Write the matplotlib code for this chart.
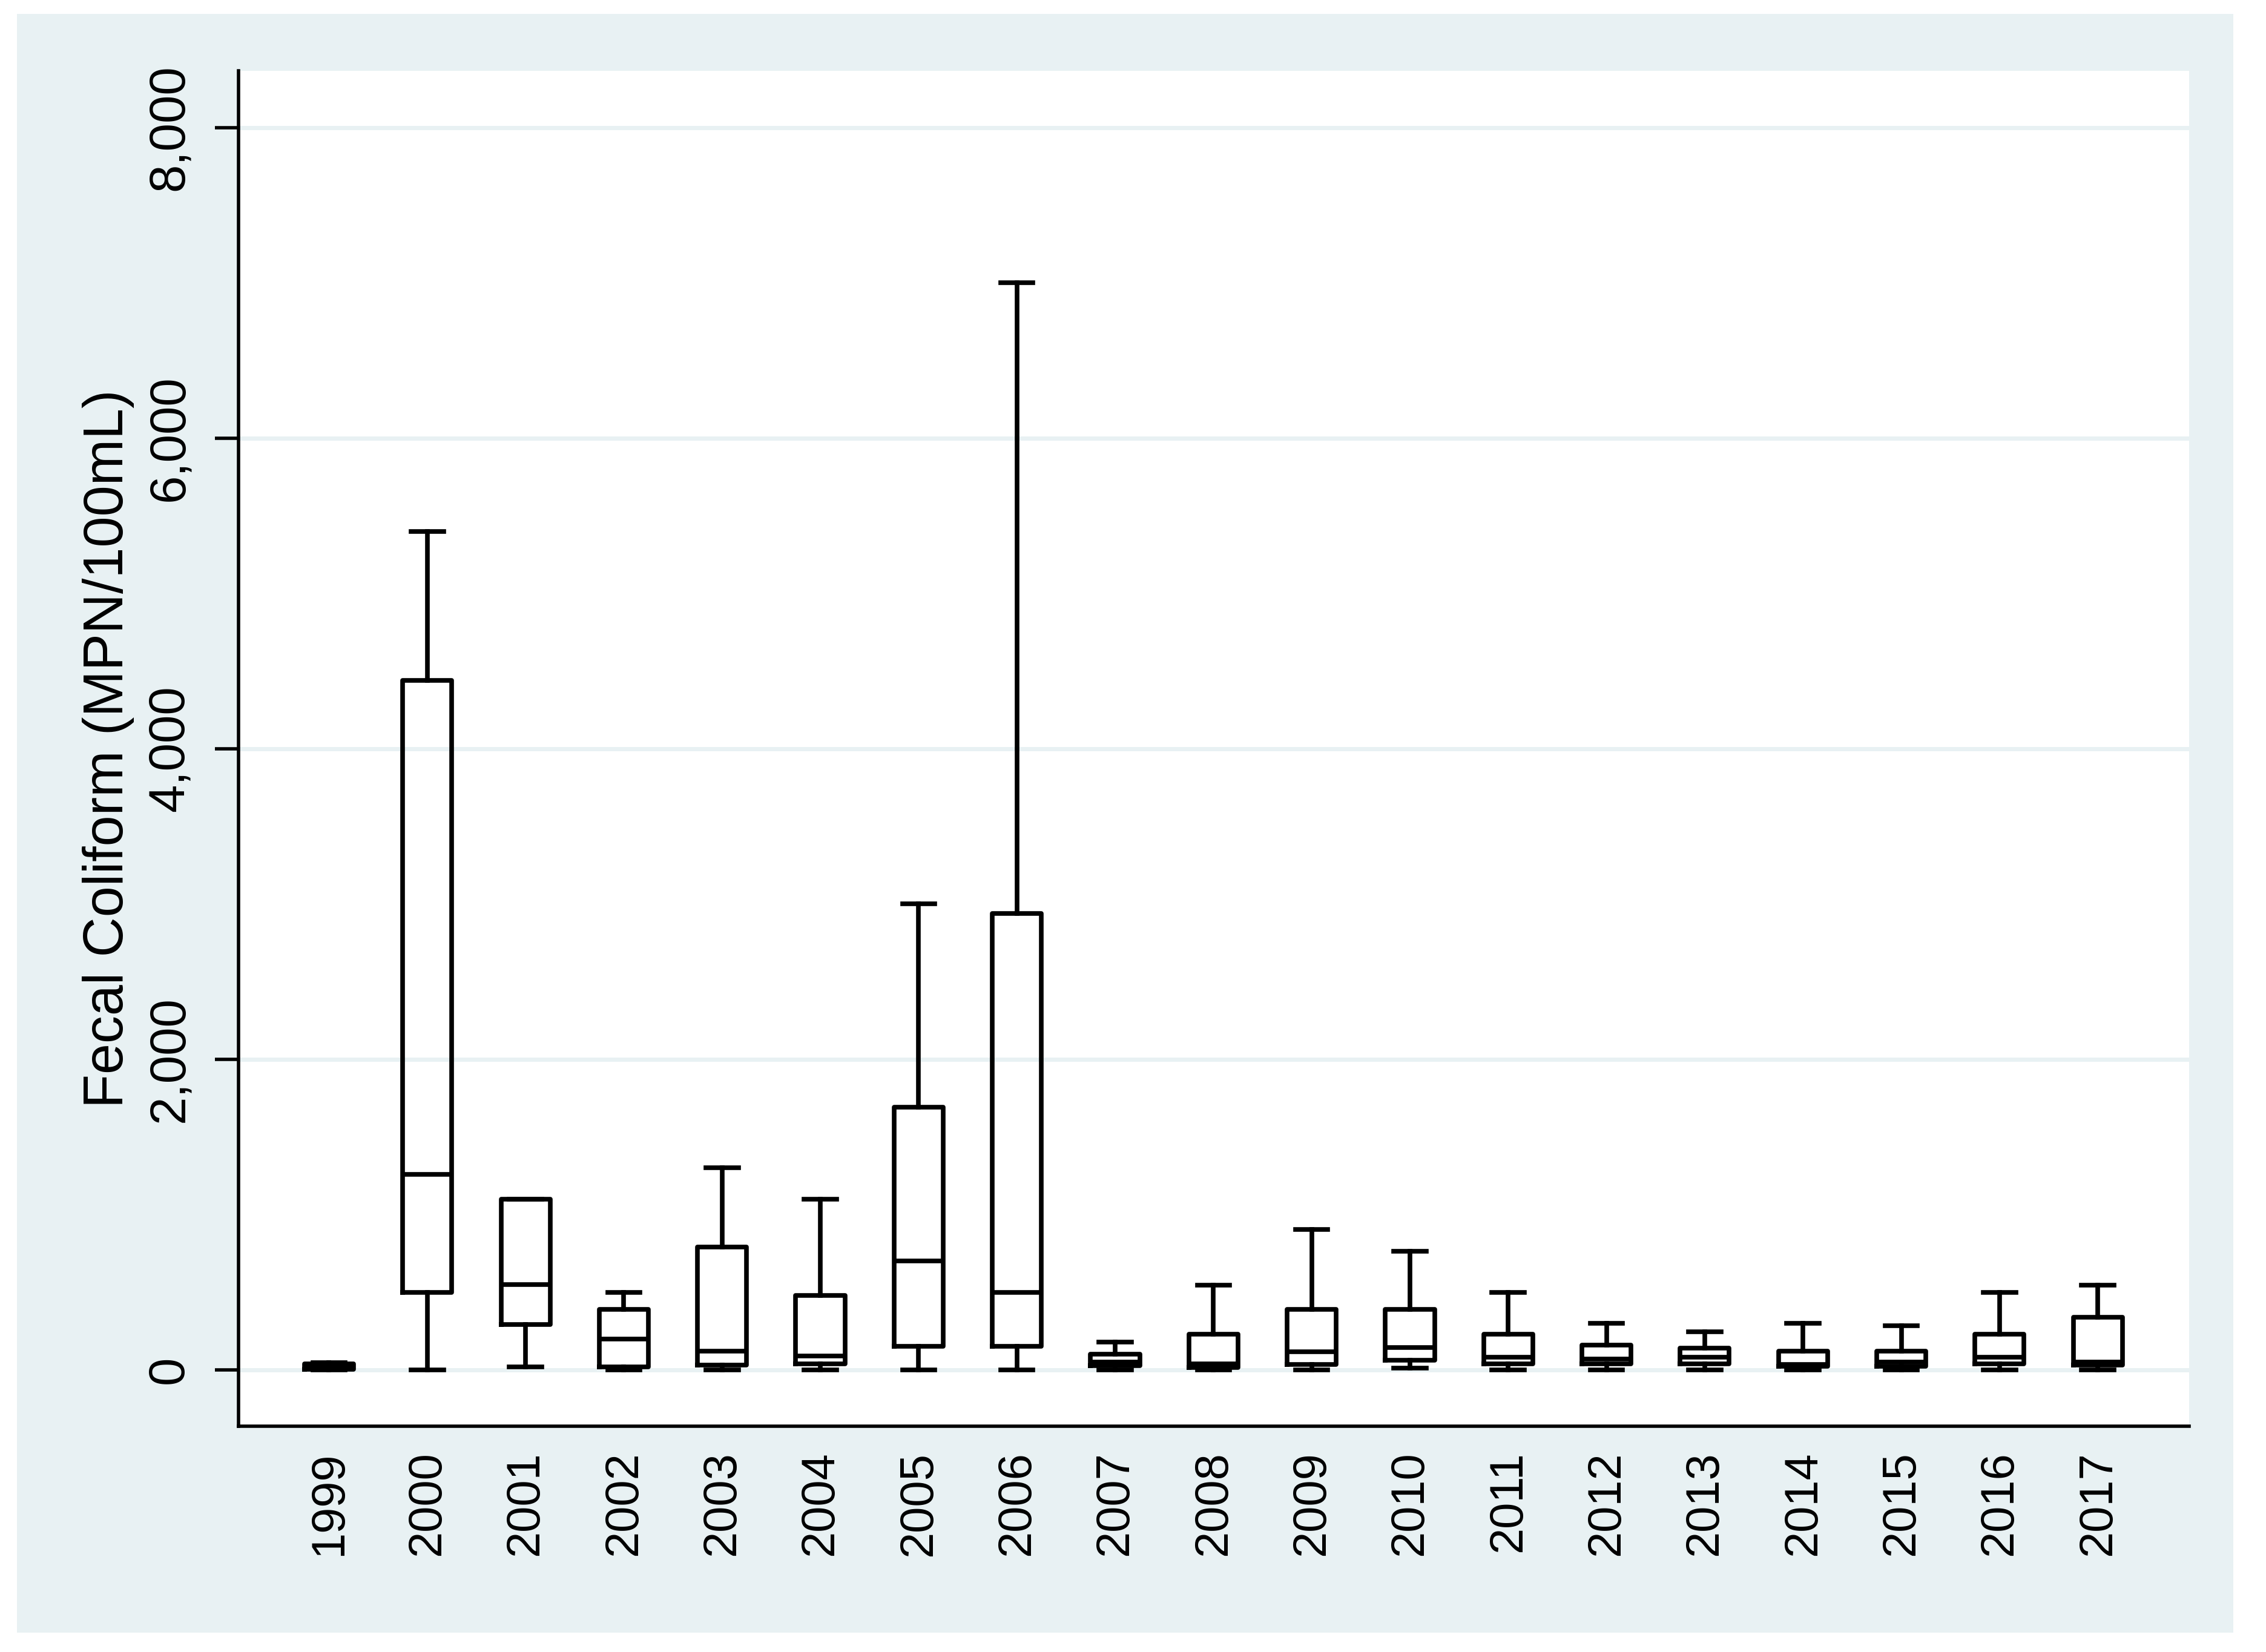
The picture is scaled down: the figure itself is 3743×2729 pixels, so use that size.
import matplotlib
matplotlib.use('Agg')
import matplotlib.pyplot as plt
from matplotlib.patches import Rectangle

plt.rcParams['font.family'] = ['Liberation Sans', 'DejaVu Sans']

# yearly fecal coliform summaries (MPN/100mL)
years = ['1999', '2000', '2001', '2002', '2003', '2004', '2005', '2006', '2007',
         '2008', '2009', '2010', '2011', '2012', '2013', '2014', '2015', '2016', '2017']
whis_lo = [0, 0, 20, 0, 0, 0, 0, 0, 0, 0, 0, 10, 0, 0, 0, 0, 0, 0, 0]
q1 = [5, 500, 290, 20, 30, 40, 150, 150, 25, 15, 35, 60, 40, 40, 40, 23, 23, 40, 30]
med = [20, 1260, 550, 200, 120, 90, 700, 500, 50, 40, 117, 145, 80, 70, 80, 36, 50, 80, 50]
q3 = [40, 4440, 1100, 390, 790, 480, 1690, 2940, 100, 230, 390, 390, 230, 160, 140, 120, 120, 230, 340]
whis_hi = [45, 5400, 1100, 500, 1300, 1100, 3000, 7000, 180, 545, 905, 765, 500, 300, 245, 300, 285, 500, 545]

stats = []
for i in range(len(years)):
    stats.append({'label': years[i], 'whislo': whis_lo[i], 'q1': q1[i], 'med': med[i],
                  'q3': q3[i], 'whishi': whis_hi[i], 'fliers': []})

bg = '#e8f1f3'
lw = 5.5

fig = plt.figure(figsize=(37.43, 27.29), dpi=100, facecolor='white')
fig.patches.append(Rectangle((0.0075, 0.0117), 0.978, 0.980, transform=fig.transFigure,
                             facecolor=bg, edgecolor='none', zorder=-10))
ax = fig.add_axes([0.1053, 0.1367, 0.8608, 0.8204])
ax.set_facecolor('white')

ax.bxp(stats, positions=range(len(years)), widths=0.5, capwidths=0.33, showfliers=False,
       boxprops=dict(color='black', linewidth=lw),
       whiskerprops=dict(color='black', linewidth=lw),
       capprops=dict(color='black', linewidth=lw),
       medianprops=dict(color='black', linewidth=lw))

ax.set_xlim(-0.92, 18.93)
ax.set_ylim(-363, 8366)
ax.set_yticks([0, 2000, 4000, 6000, 8000])
ax.set_yticklabels(['0', '2,000', '4,000', '6,000', '8,000'], rotation=90, va='center')
ax.set_xticks(range(len(years)))
ax.set_xticklabels(years, rotation=90)
ax.tick_params(axis='y', length=28, width=4, pad=26, labelsize=60)
ax.tick_params(axis='x', length=0, pad=30, labelsize=56)
ax.grid(axis='y', color=bg, linewidth=5)
ax.set_axisbelow(True)
for s in ['top', 'right']:
    ax.spines[s].set_visible(False)
for s in ['left', 'bottom']:
    ax.spines[s].set_linewidth(4)
ax.set_ylabel('Fecal Coliform (MPN/100mL)', fontsize=66, labelpad=14)

fig.savefig('out.png', dpi=100, facecolor='white')
